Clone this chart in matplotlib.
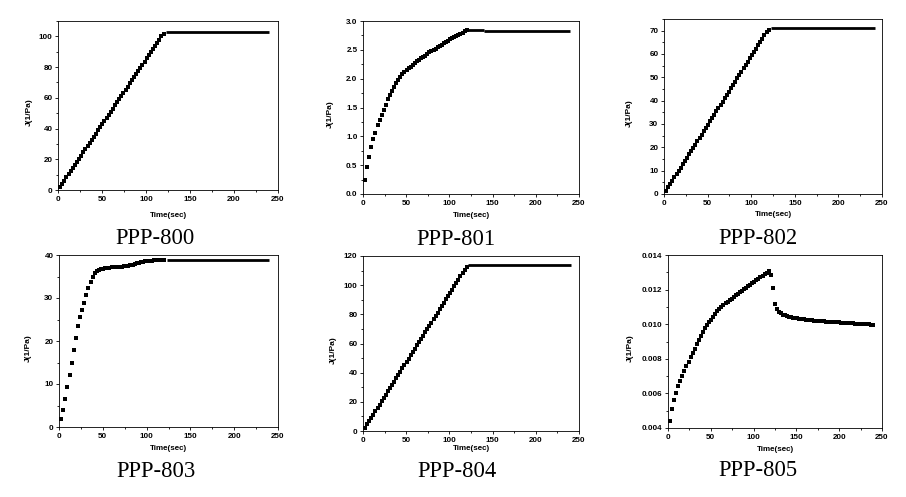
import matplotlib
matplotlib.use("Agg")
import matplotlib.pyplot as plt
from matplotlib.ticker import MultipleLocator, FormatStrFormatter

# creep phase sample times (sec), shared by all six samples
t_creep = [2.4, 4.8, 7.2, 9.6, 12.0, 14.4, 16.8, 19.2, 21.6, 24.0,
           26.4, 28.8, 31.2, 33.6, 36.0, 38.4, 40.8, 43.2, 45.6, 48.0,
           50.4, 52.8, 55.2, 57.6, 60.0, 62.4, 64.8, 67.2, 69.6, 72.0,
           74.4, 76.8, 79.2, 81.6, 84.0, 86.4, 88.8, 91.2, 93.6, 96.0,
           98.4, 100.8, 103.2, 105.6, 108.0, 110.4, 112.8, 115.2, 117.6, 120.0]

j_800 = [2.0, 4.1, 6.1, 8.2, 10.2, 12.2, 14.3, 16.3, 18.4, 20.4,
         22.4, 24.5, 26.5, 28.6, 30.6, 32.6, 34.7, 36.7, 38.8, 40.8,
         42.8, 44.9, 46.9, 49.0, 51.0, 53.0, 55.1, 57.1, 59.2, 61.2,
         63.2, 65.3, 67.3, 69.4, 71.4, 73.4, 75.5, 77.5, 79.6, 81.6,
         83.6, 85.7, 87.7, 89.8, 91.8, 93.8, 95.9, 97.9, 100.0, 101.5]

j_801 = [0.25, 0.46, 0.64, 0.81, 0.95, 1.06, 1.19, 1.28, 1.37, 1.45,
         1.55, 1.64, 1.72, 1.79, 1.86, 1.92, 1.97, 2.03, 2.08, 2.12,
         2.15, 2.18, 2.21, 2.24, 2.27, 2.30, 2.33, 2.35, 2.38, 2.40,
         2.43, 2.46, 2.48, 2.50, 2.52, 2.55, 2.57, 2.59, 2.61, 2.63,
         2.66, 2.68, 2.70, 2.72, 2.74, 2.76, 2.78, 2.80, 2.83, 2.85]

j_802 = [1.4, 2.8, 4.2, 5.7, 7.1, 8.5, 9.9, 11.3, 12.7, 14.2,
         15.6, 17.0, 18.4, 19.8, 21.2, 22.7, 24.1, 25.5, 26.9, 28.3,
         29.7, 31.2, 32.6, 34.0, 35.4, 36.8, 38.2, 39.6, 41.1, 42.5,
         43.9, 45.3, 46.7, 48.1, 49.6, 51.0, 52.4, 53.8, 55.2, 56.6,
         58.1, 59.5, 60.9, 62.3, 63.7, 65.1, 66.6, 68.0, 69.4, 70.5]

j_803 = [1.8, 3.9, 6.5, 9.4, 12.1, 15.0, 17.9, 20.8, 23.4, 25.5,
         27.3, 28.9, 30.7, 32.3, 33.7, 35.0, 35.8, 36.3, 36.6, 36.7,
         36.8, 36.9, 37.0, 37.05, 37.1, 37.15, 37.2, 37.25, 37.3, 37.3,
         37.35, 37.4, 37.45, 37.6, 37.7, 37.9, 38.1, 38.25, 38.35, 38.45,
         38.55, 38.6, 38.65, 38.7, 38.75, 38.8, 38.82, 38.85, 38.88, 38.9]

j_804 = [2.3, 4.5, 6.8, 9.0, 11.3, 13.5, 15.8, 18.0, 20.3, 22.6,
         24.8, 27.1, 29.3, 31.6, 33.8, 36.1, 38.4, 40.6, 42.9, 45.1,
         47.4, 49.6, 51.9, 54.1, 56.4, 58.7, 60.9, 63.2, 65.4, 67.7,
         69.9, 72.2, 74.4, 76.7, 79.0, 81.2, 83.5, 85.7, 88.0, 90.2,
         92.5, 94.8, 97.0, 99.3, 101.5, 103.8, 106.0, 108.3, 110.5, 112.5]

j_805 = [0.00440, 0.00510, 0.00562, 0.00603, 0.00640, 0.00672, 0.00702, 0.00731, 0.00758, 0.00783,
         0.00809, 0.00835, 0.00859, 0.00883, 0.00907, 0.00931, 0.00954, 0.00976, 0.00995, 0.01011,
         0.01026, 0.01041, 0.01057, 0.01074, 0.01088, 0.01100, 0.01110, 0.01120, 0.01130, 0.01139,
         0.01148, 0.01159, 0.01168, 0.01176, 0.01184, 0.01193, 0.01201, 0.01210, 0.01218, 0.01227,
         0.01236, 0.01245, 0.01253, 0.01261, 0.01270, 0.01279, 0.01288, 0.01298, 0.01310, 0.01284]

# recovery phase for PPP-805 (the only one that is not flat)
t_rec_805 = [122.4, 124.8, 127.2, 129.6, 132.0, 134.4, 136.8, 139.2, 141.6, 144.0,
             146.4, 148.8, 151.2, 153.6, 156.0, 158.4, 160.8, 163.2, 165.6, 168.0,
             170.4, 172.8, 175.2, 177.6, 180.0, 182.4, 184.8, 187.2, 189.6, 192.0,
             194.4, 196.8, 199.2, 201.6, 204.0, 206.4, 208.8, 211.2, 213.6, 216.0,
             218.4, 220.8, 223.2, 225.6, 228.0, 230.4, 232.8, 235.2, 237.6, 240.0]
j_rec_805 = [0.01210, 0.01115, 0.01087, 0.01073, 0.01063, 0.01056, 0.01051, 0.01047, 0.01044, 0.01041,
             0.01038, 0.01036, 0.01034, 0.01032, 0.01030, 0.01028, 0.01026, 0.01025, 0.01023, 0.01022,
             0.01021, 0.01020, 0.01019, 0.01018, 0.01017, 0.01016, 0.01015, 0.01014, 0.01013, 0.01012,
             0.01011, 0.01011, 0.01010, 0.01009, 0.01008, 0.01008, 0.01007, 0.01006, 0.01005, 0.01005,
             0.01004, 0.01003, 0.01003, 0.01002, 0.01001, 0.01001, 0.01000, 0.00999, 0.00998, 0.00995]

# flat recovery plateaus: (start, end, level)
flat_800 = [(123, 240, 102.6)]
flat_801 = [(121, 140, 2.845), (140, 240, 2.82)]
flat_802 = [(123, 242, 71.0)]
flat_803 = [(123, 240, 38.9)]
flat_804 = [(122, 241, 113.5)]

names = ["PPP-800", "PPP-801", "PPP-802", "PPP-803", "PPP-804", "PPP-805"]

W, H = 906, 497
fig = plt.figure(figsize=(W / 100, H / 100), dpi=100)

# axes boxes in pixels: left, top, right, bottom
boxes = [(58, 21, 278, 190), (363, 21, 579, 194), (664, 19, 882, 194),
         (59, 255, 278, 427), (363, 256, 579, 431), (668, 255, 882, 428)]
ylims = [(0, 110), (0, 3.0), (0, 75), (0, 40), (0, 120), (0.004, 0.014)]
ymaj = [20, 0.5, 10, 10, 20, 0.002]
yfmt = ["%d", "%.1f", "%d", "%d", "%d", "%.3f"]
ylab_x = [-0.114, -0.134, -0.143, -0.123, -0.123, -0.158]
xlab_y = [-0.13, -0.106, -0.10, -0.103, -0.08, -0.106]
name_pos = [(155, 244), (456, 245), (758, 244), (156, 477), (457, 477), (758, 476)]

creep = [j_800, j_801, j_802, j_803, j_804, j_805]
flats = [flat_800, flat_801, flat_802, flat_803, flat_804, []]

tick_font = {"family": "Liberation Sans", "weight": "bold", "size": 5.8}

for i in range(6):
    l, t, r, b = boxes[i]
    ax = fig.add_axes([l / W, 1 - b / H, (r - l) / W, (b - t) / H])
    ax.plot(t_creep, creep[i], "s", color="black", ms=2.2, mew=0)
    for start, end, level in flats[i]:
        ax.plot([start, end], [level, level], "-", color="black", lw=2.0,
                solid_capstyle="butt")
    if i == 5:
        ax.plot(t_rec_805, j_rec_805, "s", color="black", ms=2.2, mew=0)

    ax.set_xlim(0, 250)
    ax.set_ylim(*ylims[i])
    ax.xaxis.set_major_locator(MultipleLocator(50))
    ax.xaxis.set_minor_locator(MultipleLocator(25))
    ax.yaxis.set_major_locator(MultipleLocator(ymaj[i]))
    ax.yaxis.set_minor_locator(MultipleLocator(ymaj[i] / 2))
    ax.yaxis.set_major_formatter(FormatStrFormatter(yfmt[i]))
    ax.tick_params(which="both", direction="out", top=False, right=False,
                   width=0.6, pad=1.5)
    ax.tick_params(which="major", length=2.5)
    ax.tick_params(which="minor", length=1.5)
    for lbl in ax.get_xticklabels() + ax.get_yticklabels():
        lbl.set_fontproperties(tick_font)
    for sp in ax.spines.values():
        sp.set_linewidth(0.6)

    ax.set_xlabel("Time(sec)", fontdict=tick_font)
    ax.set_ylabel("J(1/Pa)", fontdict={"family": "Liberation Sans", "weight": "bold", "size": 6.0})
    ax.xaxis.set_label_coords(0.5, xlab_y[i])
    ax.yaxis.set_label_coords(ylab_x[i], 0.46)

    nx, ny = name_pos[i]
    fig.text(nx / W, 1 - ny / H, names[i], ha="center", va="baseline",
             family="Liberation Serif", size=16.3)

fig.savefig("out.png", dpi=100)
